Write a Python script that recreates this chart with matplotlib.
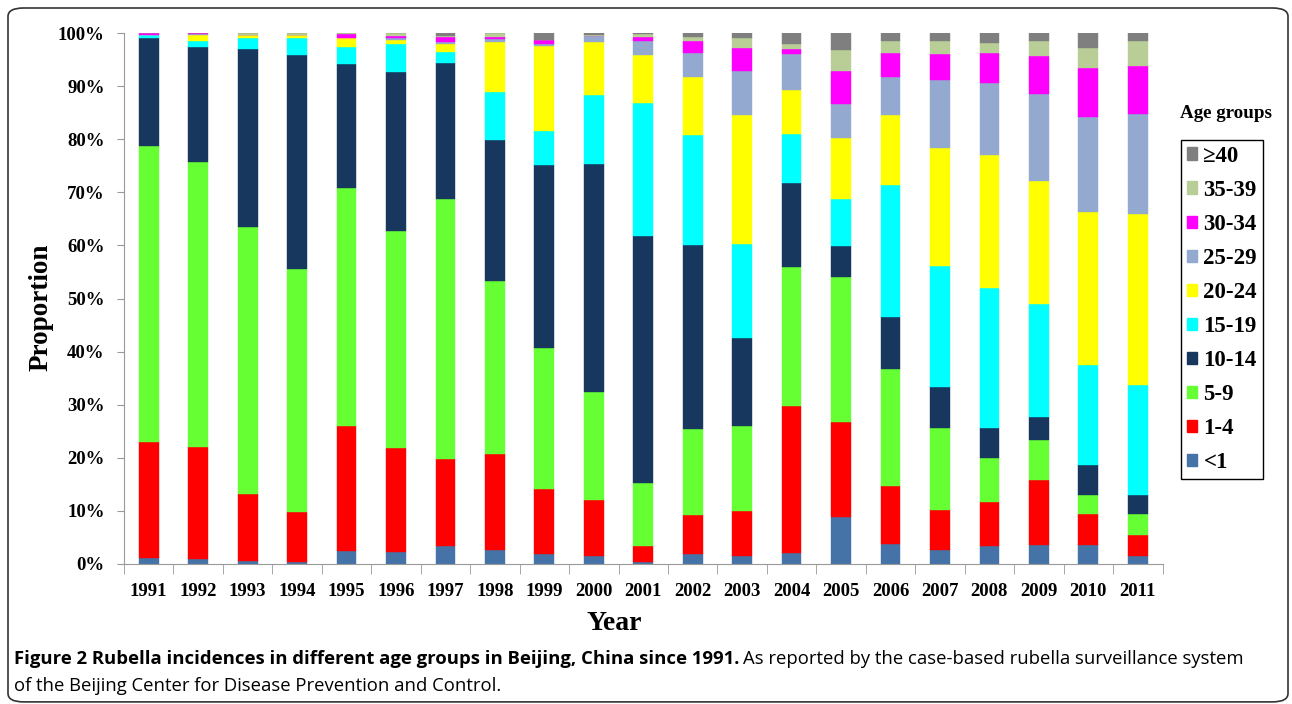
import numpy as np
import matplotlib
matplotlib.use('Agg')
import matplotlib.pyplot as plt
from matplotlib.patches import FancyBboxPatch, Patch

years = [str(y) for y in range(1991, 2012)]
groups = ['<1', '1-4', '5-9', '10-14', '15-19', '20-24', '25-29', '30-34', '35-39', '\u226540']
colors = ['#4572A7', '#FF0000', '#66FF33', '#17375E', '#00FFFF',
          '#FFFF00', '#93A9CF', '#FF00FF', '#B9CE96', '#7F7F7F']

# percentage of cases per age group
lt1   = [1.1, 0.9, 0.6, 0.4, 2.4, 2.3, 3.3, 2.7, 1.9, 1.5, 0.4, 1.9, 1.5, 2.1, 8.8, 3.7, 2.6, 3.3, 3.5, 3.5, 1.5]
a1_4  = [21.9, 21.1, 12.6, 9.4, 23.6, 19.5, 16.4, 18.1, 12.2, 10.5, 3.0, 7.3, 8.5, 27.7, 18.0, 11.0, 7.6, 8.3, 12.4, 5.9, 4.0]
a5_9  = [55.7, 53.7, 50.3, 45.8, 44.8, 40.9, 49.0, 32.5, 26.6, 20.3, 11.8, 16.3, 16.0, 26.1, 27.2, 22.0, 15.5, 8.3, 7.5, 3.6, 4.0]
a10_14 = [20.4, 21.7, 33.5, 40.2, 23.4, 29.9, 25.7, 26.5, 34.4, 43.0, 46.6, 34.6, 16.5, 15.9, 5.8, 9.8, 7.7, 5.7, 4.2, 5.7, 3.5]
a15_19 = [0.5, 1.1, 2.1, 3.3, 3.2, 5.4, 2.1, 9.0, 6.4, 13.0, 25.1, 20.7, 17.8, 9.2, 8.9, 24.9, 22.7, 26.4, 21.4, 18.8, 20.7]
a20_24 = [0.1, 1.2, 0.6, 0.6, 1.7, 0.7, 1.4, 9.5, 16.1, 10.0, 8.9, 11.0, 24.3, 8.3, 11.5, 13.2, 22.2, 25.0, 23.1, 28.8, 32.2]
a25_29 = [0.0, 0.1, 0.0, 0.0, 0.0, 0.4, 0.4, 0.6, 0.4, 1.1, 2.6, 4.4, 8.3, 6.7, 6.4, 7.1, 12.8, 13.6, 16.4, 17.8, 18.8]
a30_34 = [0.3, 0.2, 0.0, 0.0, 0.7, 0.4, 0.9, 0.4, 0.6, 0.0, 0.8, 2.3, 4.3, 1.0, 6.3, 4.5, 4.9, 5.6, 7.1, 9.4, 9.0]
a35_39 = [0.0, 0.0, 0.3, 0.3, 0.2, 0.5, 0.2, 0.7, 0.0, 0.3, 0.6, 0.8, 1.8, 0.9, 3.9, 2.3, 2.5, 2.0, 2.9, 3.6, 4.7]
a40    = [0.0, 0.0, 0.0, 0.0, 0.0, 0.0, 0.6, 0.0, 1.4, 0.3, 0.2, 0.7, 1.0, 2.1, 3.2, 1.5, 1.5, 1.8, 1.5, 2.9, 1.6]

series = [lt1, a1_4, a5_9, a10_14, a15_19, a20_24, a25_29, a30_34, a35_39, a40]

serif = 'Liberation Serif'

fig = plt.figure(figsize=(12.92, 7.04), dpi=100)
ax = fig.add_axes([124 / 1292, 1 - 564 / 704, 1038.5 / 1292, 531 / 704])

x = np.arange(len(years))
bottom = np.zeros(len(years))
handles = []
for vals, col, name in zip(series, colors, groups):
    vals = np.array(vals)
    ax.bar(x, vals, 0.4, bottom=bottom, color=col, edgecolor=col, linewidth=0.3)
    bottom += vals
    handles.append(Patch(facecolor=col, edgecolor=col, label=name))

ax.set_xlim(-0.5, len(years) - 0.5)
ax.set_ylim(0, 100)
ax.set_xticks(x)
ax.set_xticklabels(years, fontfamily=serif, fontweight='bold', fontsize=13.5)
ax.set_xticks(np.arange(-0.5, len(years)), minor=True)
ax.tick_params(axis='x', which='major', length=0, pad=14)
ax.tick_params(axis='x', which='minor', length=7, color='#999999', direction='out')
ax.set_yticks(np.arange(0, 101, 10))
ax.set_yticklabels([f'{v}%' for v in range(0, 101, 10)], fontfamily=serif,
                   fontweight='bold', fontsize=13.5)
ax.tick_params(axis='y', length=5, color='#999999', pad=9)
for s in ['top', 'right']:
    ax.spines[s].set_visible(False)
for s in ['left', 'bottom']:
    ax.spines[s].set_color('#999999')

ax.set_ylabel('Proportion', fontfamily=serif, fontweight='bold', fontsize=19.5)
ax.yaxis.set_label_coords(-0.0675, 0.484)
ax.set_xlabel('Year', fontfamily=serif, fontweight='bold', fontsize=20)
ax.xaxis.set_label_coords(0.472, -0.088)

fig.text(1226 / 1292, 1 - 114 / 704, 'Age groups', fontfamily=serif, fontweight='bold',
         fontsize=13.7, ha='center', va='center')
leg = fig.legend(handles=handles[::-1], loc='upper left',
                 bbox_to_anchor=(1181 / 1292, 1 - 140 / 704), borderaxespad=0,
                 prop={'family': serif, 'weight': 'bold', 'size': 16.5},
                 handlelength=0.45, handleheight=0.45, handletextpad=0.28,
                 labelspacing=0.57, borderpad=0.25, fancybox=False,
                 edgecolor='black', framealpha=1)
leg.get_frame().set_linewidth(1.0)

# border round the whole figure
fig.patches.append(FancyBboxPatch((8 / 1292, 0.003), 1280 / 1292, 1 - 8 / 704 - 0.003,
                                  boxstyle='round,pad=0,rounding_size=0.012',
                                  transform=fig.transFigure, fill=False,
                                  edgecolor='#333333', linewidth=1.2))

cap_font = 'Open Sans'
t1 = fig.text(14 / 1292, 1 - 659 / 704,
              'Figure 2 Rubella incidences in different age groups in Beijing, China since 1991.',
              fontfamily=cap_font, fontweight='bold', fontsize=13.3, va='center')
fig.canvas.draw()
bb = t1.get_window_extent()
fig.text(bb.x1 / 1292 + 4 / 1292, 1 - 659 / 704,
         'As reported by the case-based rubella surveillance system',
         fontfamily=cap_font, fontsize=13.3, va='center')
fig.text(14 / 1292, 1 - 686 / 704,
         'of the Beijing Center for Disease Prevention and Control.',
         fontfamily=cap_font, fontsize=13.3, va='center')

fig.savefig('out.png', dpi=100)
